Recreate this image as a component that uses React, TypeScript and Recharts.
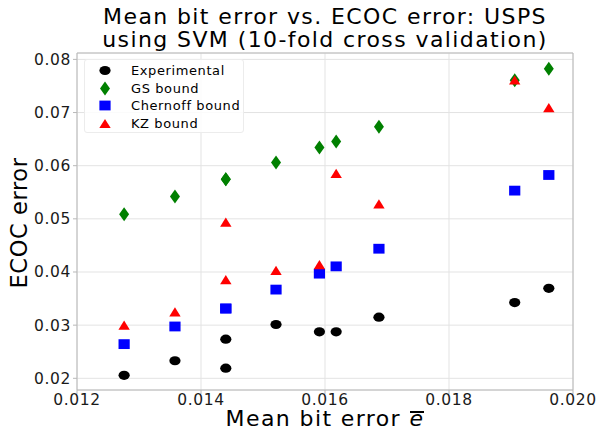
import React from "react";
import {
  CartesianGrid,
  ReferenceLine,
  Scatter,
  ScatterChart,
  XAxis,
  YAxis,
} from "recharts";

// 平均ビット誤差（x）と各系列の ECOC 誤差（y）
const BIT_ERROR = [0.01276, 0.01358, 0.0144, 0.0144, 0.01521, 0.01591, 0.01618, 0.01687, 0.01906, 0.01961];
const EXPERIMENTAL = [0.02056, 0.0233, 0.02737, 0.0219, 0.03012, 0.02874, 0.02874, 0.0315, 0.03425, 0.03693];
const GS_BOUND = [0.05087, 0.05418, 0.05743, 0.05743, 0.06062, 0.06343, 0.06456, 0.06731, 0.07606, 0.07824];
const CHERNOFF_BOUND = [0.02643, 0.02975, 0.03313, 0.03313, 0.03669, 0.03969, 0.04106, 0.04438, 0.05531, 0.05825];
const KZ_BOUND = [0.03, 0.0325, 0.04937, 0.03856, 0.0403, 0.04137, 0.05855, 0.0528, 0.07612, 0.07093];

const X_TICKS = [0.012, 0.014, 0.016, 0.018, 0.02];
const Y_TICKS = [0.02, 0.03, 0.04, 0.05, 0.06, 0.07, 0.08];
const X_DOMAIN: [number, number] = [0.012, 0.02];
const Y_DOMAIN: [number, number] = [0.0178, 0.0812];

const toPoints = (ys: number[]) => BIT_ERROR.map((x, i) => ({ x, y: ys[i] }));

const FONT = "'DejaVu Sans', sans-serif";
const FRAME = "#b8b8b8";
const GRID = "#e3e3e3";

// マーカー形状
const Ellipse = (p: any) => <ellipse cx={p.cx} cy={p.cy} rx={5.6} ry={4.6} fill="#000000" />;
const Diamond = (p: any) => (
  <path d={`M${p.cx},${p.cy - 7} L${p.cx + 5},${p.cy} L${p.cx},${p.cy + 7} L${p.cx - 5},${p.cy} Z`} fill="#008000" />
);
const Square = (p: any) => <rect x={p.cx - 5.6} y={p.cy - 4.9} width={11.2} height={9.8} fill="#0000ff" />;
const Triangle = (p: any) => (
  <path d={`M${p.cx},${p.cy - 4.6} L${p.cx + 5.7},${p.cy + 4.6} L${p.cx - 5.7},${p.cy + 4.6} Z`} fill="#ff0000" />
);

const SERIES = [
  { name: "Experimental", data: EXPERIMENTAL, shape: Ellipse },
  { name: "GS bound", data: GS_BOUND, shape: Diamond },
  { name: "Chernoff bound", data: CHERNOFF_BOUND, shape: Square },
  { name: "KZ bound", data: KZ_BOUND, shape: Triangle },
];

const tickStyle = { fontSize: 15.5, fill: "#1a1a1a", fontFamily: FONT, letterSpacing: 0.6 };

export default function App() {
  return (
    <div style={{ position: "absolute", left: 0, top: 0, width: 596, height: 433, background: "#fff", fontFamily: FONT }}>
      <ScatterChart width={596} height={433} margin={{ top: 53, right: 23, bottom: 0, left: 0 }}>
        <CartesianGrid stroke={GRID} strokeWidth={1} />
        <XAxis
          type="number"
          dataKey="x"
          domain={X_DOMAIN}
          ticks={X_TICKS}
          allowDataOverflow
          tickFormatter={(v) => Number(v).toFixed(3)}
          tick={tickStyle}
          stroke={FRAME}
          tickSize={4}
          tickMargin={0}
          height={43}
        />
        <YAxis
          type="number"
          dataKey="y"
          domain={Y_DOMAIN}
          ticks={Y_TICKS}
          allowDataOverflow
          tickFormatter={(v) => Number(v).toFixed(2)}
          tick={tickStyle}
          stroke={FRAME}
          tickSize={4}
          width={77}
        />
        <ReferenceLine x={X_DOMAIN[1]} stroke={FRAME} />
        <ReferenceLine y={Y_DOMAIN[1]} stroke={FRAME} />
        {SERIES.map((s) => (
          <Scatter key={s.name} name={s.name} data={toPoints(s.data)} shape={s.shape} isAnimationActive={false} />
        ))}
      </ScatterChart>

      {/* タイトル */}
      <div
        style={{
          position: "absolute",
          left: 77,
          width: 496,
          top: 5,
          textAlign: "center",
          fontSize: 22,
          lineHeight: "23px",
          letterSpacing: 1.4,
          color: "#000",
          whiteSpace: "nowrap",
        }}
      >
        Mean bit error vs. ECOC error: USPS
        <br />
        using SVM (10-fold cross validation)
      </div>

      {/* 軸ラベル */}
      <div
        style={{
          position: "absolute",
          left: 19,
          top: 223,
          transform: "translate(-50%, -50%) rotate(-90deg)",
          whiteSpace: "nowrap",
          fontSize: 22.5,
          letterSpacing: 0.6,
          color: "#000",
        }}
      >
        ECOC error
      </div>
      <div
        style={{
          position: "absolute",
          left: 77,
          width: 496,
          top: 411,
          textAlign: "center",
          fontSize: 22,
          lineHeight: "16px",
          letterSpacing: 1.4,
          color: "#000",
          whiteSpace: "nowrap",
        }}
      >
        Mean bit error{" "}
        <span style={{ position: "relative", display: "inline-block", fontStyle: "italic" }}>
          e
          <span
            style={{
              position: "absolute",
              left: 1,
              right: 0,
              top: 0,
              height: 1.6,
              background: "#000",
            }}
          />
        </span>
      </div>

      {/* 凡例 */}
      <div
        style={{
          position: "absolute",
          left: 84,
          top: 59,
          width: 160,
          height: 74,
          boxSizing: "border-box",
          border: "1px solid #ececec",
          borderRadius: 3,
          background: "rgba(255,255,255,0.85)",
          padding: "2px 0 0 0",
        }}
      >
        {SERIES.map((s) => {
          const Shape = s.shape;
          return (
            <div key={s.name} style={{ display: "flex", alignItems: "center", height: 17.6 }}>
              <svg width={40} height={17} style={{ flex: "none" }}>
                <Shape cx={20} cy={8.5} />
              </svg>
              <span style={{ marginLeft: 6, fontSize: 13, letterSpacing: 0.6, color: "#000", whiteSpace: "nowrap" }}>
                {s.name}
              </span>
            </div>
          );
        })}
      </div>
    </div>
  );
}
